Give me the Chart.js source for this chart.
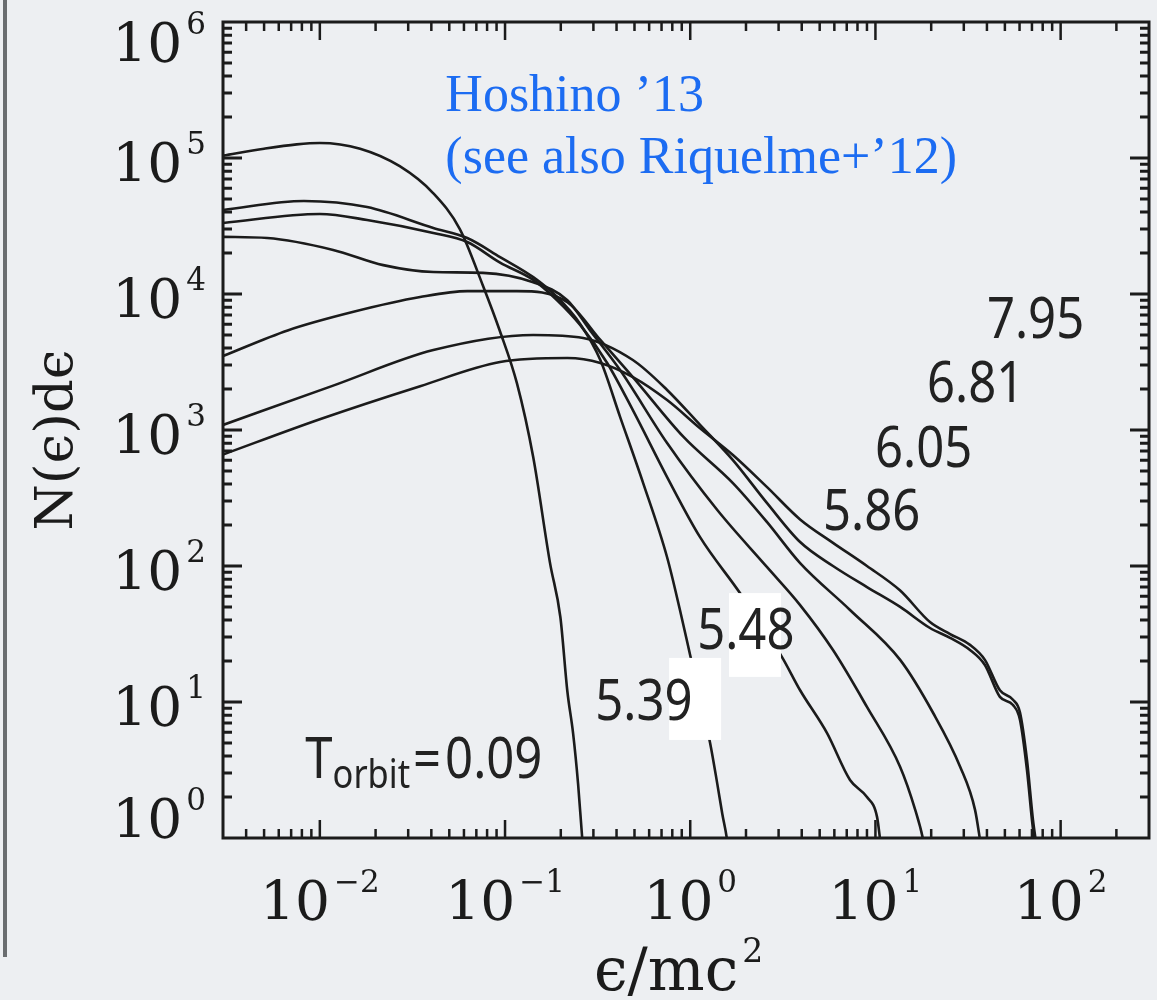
<!DOCTYPE html>
<html>
<head>
<meta charset="utf-8">
<script src="https://cdn.jsdelivr.net/npm/chart.js@4.4.1/dist/chart.umd.min.js"></script>
<style>
  html, body { margin: 0; padding: 0; background: #edeff2; }
  #wrap { width: 1157px; height: 1000px; position: relative; }
</style>
</head>
<body>
<div id="wrap"><canvas id="spectra" width="1157" height="1000"></canvas></div>
<script>
// energy spectra N(e)de at several orbit times, e in units of mc^2
const orbitTimes = ['0.09', '5.39', '5.48', '5.86', '6.05', '6.81', '7.95'];

const e009 = [0.003, 0.005, 0.0075, 0.01, 0.0165, 0.027, 0.041, 0.057, 0.076, 0.094, 0.116, 0.142, 0.175, 0.199, 0.217, 0.233, 0.248, 0.261, 0.27];
const n009 = [1.04e5, 1.17e5, 1.26e5, 1.29e5, 1.17e5, 8.7e4, 5.5e4, 3.0e4, 1.15e4, 5.3e3, 2.2e3, 630, 105, 42, 12, 5.9, 2.5, 1.0, 0.6];

const e539 = [0.003, 0.0082, 0.018, 0.041, 0.0625, 0.094, 0.142, 0.191, 0.255, 0.327, 0.418, 0.557, 0.75, 0.88, 1.0, 1.28, 1.40, 1.49, 1.58, 1.62];
const n539 = [4.15e4, 4.83e4, 4.36e4, 3.06e4, 2.58e4, 1.87e4, 1.33e4, 9.5e3, 6.0e3, 3.27e3, 1.25e3, 407, 116, 47.5, 22, 5.0, 2.5, 1.5, 0.97, 0.7];

const e548 = [0.003, 0.01, 0.018, 0.041, 0.0625, 0.094, 0.142, 0.191, 0.255, 0.356, 0.49, 0.75, 1.13, 1.86, 3.13, 3.92, 5.48, 7.29, 9.0, 10.2, 10.6, 10.9];
const n548 = [3.33e4, 3.87e4, 3.5e4, 2.81e4, 2.41e4, 1.7e4, 1.27e4, 9.0e3, 5.9e3, 3.11e3, 1.4e3, 451, 163, 63, 21.4, 12.2, 5.9, 2.67, 2.0, 1.43, 0.97, 0.7];

const e586 = [0.003, 0.0052, 0.0118, 0.022, 0.041, 0.076, 0.142, 0.217, 0.288, 0.418, 0.75, 1.40, 2.6, 3.92, 5.9, 9.0, 13.6, 16.4, 18.1, 18.8];
const n586 = [2.63e4, 2.58e4, 2.11e4, 1.63e4, 1.45e4, 1.43e4, 1.22e4, 9.0e3, 5.4e3, 2.76e3, 802, 258, 98, 51.6, 24.1, 9.2, 3.33, 1.61, 0.97, 0.7];

const e605 = [0.003, 0.0067, 0.0152, 0.0348, 0.0625, 0.116, 0.217, 0.327, 0.49, 0.92, 1.70, 2.6, 3.92, 7.29, 13.6, 20.5, 28.7, 34.5, 36.7, 38];
const n605 = [3.5e3, 5.4e3, 7.4e3, 9.5e3, 1.05e4, 1.05e4, 8.7e3, 4.6e3, 2.45e3, 889, 407, 210, 105, 47.5, 20.4, 8.3, 3.33, 1.61, 0.97, 0.7];

const e681 = [0.003, 0.0118, 0.041, 0.142, 0.264, 0.49, 0.75, 1.13, 1.70, 2.6, 3.92, 5.9, 9.0, 13.6, 19.7, 25.3, 32.4, 39, 47, 55.3, 60.3, 65.8, 70, 72.6];
const n681 = [1.09e3, 2.12e3, 3.87e3, 5.0e3, 4.75e3, 3.27e3, 1.97e3, 1.09e3, 601, 290, 150, 100, 70, 50, 35, 29.6, 24.1, 18.7, 10.9, 9.5, 7.4, 3.16, 1.36, 0.89];

const e795 = [0.003, 0.01, 0.0348, 0.094, 0.217, 0.327, 0.49, 0.75, 1.13, 1.70, 2.6, 3.92, 5.9, 9.0, 13.6, 19.7, 25.3, 32.4, 39, 47, 55.3, 60.3, 65.8, 70.9, 74];
const n795 = [660, 1.2e3, 2.1e3, 3.16e3, 3.38e3, 3.11e3, 2.45e3, 1.66e3, 1.03e3, 655, 380, 220, 148, 100, 66, 38.7, 31.6, 26.3, 20.4, 12.2, 10.4, 8.4, 3.75, 1.36, 0.89];

const energies = [e009, e539, e548, e586, e605, e681, e795];
const counts = [n009, n539, n548, n586, n605, n681, n795];

// axis limits and decade ticks
const xMin = 3e-3, xMax = 3e2;
const yMin = 1, yMax = 1e6;
const xDecades = [-2, -1, 0, 1, 2];
const yDecades = [0, 1, 2, 3, 4, 5, 6];

const ink = '#1b1b1b';
const serif = '"DejaVu Serif", serif';
const sans = '"Noto Sans", "Open Sans", sans-serif';
const squeeze = 0.86; // the annotation face is a condensed sans

// text placed in data coordinates (left edge, baseline)
const notes = [
  { text: '7.95', x: 40, y: 4.74e3 },
  { text: '6.81', x: 19, y: 1.61e3 },
  { text: '6.05', x: 9.95, y: 535 },
  { text: '5.86', x: 5.21, y: 184 }
];
const boxedNotes = [
  { text: '5.48', x: 1.09, y: 24.5, box: [1.62, 3.09, 63.2, 15.3] },
  { text: '5.39', x: 0.307, y: 7.38, box: [0.769, 1.468, 21.1, 5.26] }
];

function narrowText(ctx, text, x, y) {
  ctx.save();
  ctx.translate(x, y);
  ctx.scale(squeeze, 1);
  ctx.fillText(text, 0, 0);
  ctx.restore();
  return ctx.measureText(text).width * squeeze;
}

function powLabel(ctx, exp, x, base, align) {
  const sup = exp < 0 ? '\u2212' + (-exp) : String(exp);
  ctx.font = '55px ' + serif;
  const wb = ctx.measureText('10').width;
  ctx.font = '31px ' + serif;
  const ws = ctx.measureText(sup).width;
  const w = wb + 4 + ws;
  const left = align === 'right' ? x - w : x - w / 2;
  ctx.font = '55px ' + serif;
  ctx.fillText('10', left, base);
  ctx.font = '31px ' + serif;
  ctx.fillText(sup, left + wb + 4, base - 28);
}

const framePlugin = {
  id: 'frame',
  afterDatasetsDraw(chart) {
    const { ctx, chartArea: a, scales: { x, y } } = chart;
    ctx.save();

    // white patches behind two of the time labels
    ctx.fillStyle = '#ffffff';
    boxedNotes.forEach(n => {
      const [x0, x1, y0, y1] = n.box;
      const l = x.getPixelForValue(x0), r = x.getPixelForValue(x1);
      const t = y.getPixelForValue(y0), b = y.getPixelForValue(y1);
      ctx.fillRect(l, t, r - l, b - t);
    });

    ctx.fillStyle = '#222222';
    ctx.textBaseline = 'alphabetic';
    ctx.textAlign = 'left';
    ctx.font = '57px ' + sans;
    notes.concat(boxedNotes).forEach(n => {
      narrowText(ctx, n.text, x.getPixelForValue(n.x), y.getPixelForValue(n.y));
    });

    // T_orbit = 0.09
    let tx = x.getPixelForValue(0.00835);
    const ty = y.getPixelForValue(2.76);
    ctx.font = '57px ' + sans;
    tx += narrowText(ctx, 'T', tx, ty);
    ctx.font = '40px ' + sans;
    tx += narrowText(ctx, 'orbit', tx, ty + 10) + 3;
    ctx.font = '57px ' + sans;
    tx += narrowText(ctx, '=', tx, ty) + 4;
    narrowText(ctx, orbitTimes[0], tx, ty);

    // reference note
    ctx.fillStyle = '#1c6cf2';
    ctx.font = '52px "Liberation Serif", serif';
    ctx.fillText('Hoshino \u201913', x.getPixelForValue(0.0476), y.getPixelForValue(2.22e5));
    ctx.fillText('(see also Riquelme+\u201912)', x.getPixelForValue(0.0476), y.getPixelForValue(7.76e4));

    // plot frame with inward ticks on all four sides
    ctx.strokeStyle = ink;
    ctx.lineWidth = 3;
    ctx.strokeRect(a.left, a.top, a.right - a.left, a.bottom - a.top);
    ctx.lineWidth = 2.5;
    ctx.beginPath();
    for (let d = -3; d <= 2; d++) {
      for (let m = 1; m <= 9; m++) {
        const v = m * Math.pow(10, d);
        if (v <= xMin * 1.01 || v >= xMax) continue;
        const px = x.getPixelForValue(v);
        const len = m === 1 ? 18 : 9;
        ctx.moveTo(px, a.bottom); ctx.lineTo(px, a.bottom - len);
        ctx.moveTo(px, a.top); ctx.lineTo(px, a.top + len);
      }
    }
    ctx.stroke();
    ctx.lineWidth = 3;
    ctx.beginPath();
    for (let d = 0; d <= 5; d++) {
      for (let m = 1; m <= 9; m++) {
        const v = m * Math.pow(10, d);
        if (v <= yMin || v >= yMax) continue;
        const py = y.getPixelForValue(v);
        const len = m === 1 ? 19 : 9;
        ctx.moveTo(a.left, py); ctx.lineTo(a.left + len, py);
        ctx.moveTo(a.right, py); ctx.lineTo(a.right - len, py);
      }
    }
    ctx.stroke();

    // decade labels
    ctx.fillStyle = ink;
    yDecades.forEach(d => {
      const py = y.getPixelForValue(Math.pow(10, d));
      const base = Math.min(Math.max(py + 24, a.top + 40), a.bottom);
      powLabel(ctx, d, a.left - 17, base, 'right');
    });
    xDecades.forEach(d => {
      powLabel(ctx, d, x.getPixelForValue(Math.pow(10, d)), a.bottom + 82, 'center');
    });

    // axis titles
    ctx.font = '60px ' + serif;
    const t1 = '\u03f5/mc', w1 = ctx.measureText(t1).width;
    const left1 = 594;
    ctx.fillText(t1, left1, 990);
    ctx.font = '33px ' + serif;
    ctx.fillText('2', left1 + w1 + 4, 962);

    ctx.save();
    ctx.translate(72, (a.top + a.bottom) / 2 + 10);
    ctx.rotate(-Math.PI / 2);
    ctx.font = '53px ' + serif;
    ctx.textAlign = 'center';
    ctx.fillText('N(\u03f5)d\u03f5', 0, 0);
    ctx.restore();

    // slide edge rule
    ctx.fillStyle = '#6a6d70';
    ctx.fillRect(3, 0, 4, 957);

    ctx.restore();
  }
};

const datasets = energies.map((es, i) => ({
  label: 'T = ' + orbitTimes[i],
  data: es.map((e, j) => ({ x: e, y: counts[i][j] })),
  borderColor: ink,
  borderWidth: 2.6,
  pointRadius: 0,
  fill: false,
  cubicInterpolationMode: 'monotone'
}));

new Chart(document.getElementById('spectra'), {
  type: 'line',
  data: { datasets },
  options: {
    responsive: false,
    animation: false,
    layout: { padding: { left: 223, right: 8, top: 22, bottom: 162 } },
    plugins: { legend: { display: false }, tooltip: { enabled: false } },
    scales: {
      x: { type: 'logarithmic', min: xMin, max: xMax, display: false },
      y: { type: 'logarithmic', min: yMin, max: yMax, display: false }
    }
  },
  plugins: [framePlugin]
});
</script>
</body>
</html>
